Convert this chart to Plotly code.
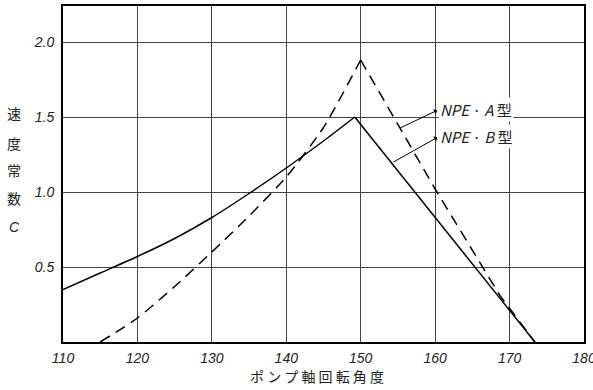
import plotly.graph_objects as go

# Pump shaft rotation angle (deg) vs. speed constant C
angle_b = [110, 115, 120, 125, 130, 135, 140, 145, 149.2, 160, 173.4]
c_b = [0.35, 0.46, 0.57, 0.69, 0.83, 0.99, 1.16, 1.34, 1.50, 0.83, 0.0]
peak_b = 8  # index of the peak of type B

angle_a = [115, 120, 125, 130, 135, 140, 145, 150, 160, 168.7, 173.4]
c_a = [0.0, 0.16, 0.37, 0.60, 0.84, 1.10, 1.43, 1.88, 1.02, 0.31, 0.0]
peak_a = 7  # index of the peak of type A

x_ticks = [110, 120, 130, 140, 150, 160, 170, 180]
y_ticks = [0.5, 1.0, 1.5, 2.0]
y_tick_text = ["0.5", "1.0", "1.5", "2.0"]

jp_font = "Noto Sans CJK JP"
num_font = "Liberation Sans"

fig = go.Figure()


def add_curve(xs, ys, peak, dash):
    """Rising branch is a smooth curve, falling branch is straight."""
    line = dict(color="black", width=1.5, dash=dash)
    fig.add_trace(go.Scatter(x=xs[:peak + 1], y=ys[:peak + 1], mode="lines",
                             line=dict(line, shape="spline", smoothing=0.6),
                             hoverinfo="x+y"))
    fig.add_trace(go.Scatter(x=xs[peak:], y=ys[peak:], mode="lines",
                             line=line, hoverinfo="x+y"))


add_curve(angle_a, c_a, peak_a, "11px,7px")
add_curve(angle_b, c_b, peak_b, "solid")

axis_common = dict(showgrid=True, gridcolor="#444", gridwidth=1,
                   showline=True, linecolor="black", linewidth=2, mirror=True,
                   zeroline=False, ticks="", ticklabeloverflow="allow",
                   automargin=False,
                   tickfont=dict(family=num_font, size=14, color="#222", style="italic"))

fig.update_xaxes(range=[110, 180], tickvals=x_ticks, ticklabelstandoff=2, **axis_common)
fig.update_yaxes(range=[0, 2.24], tickvals=y_ticks, ticktext=y_tick_text,
                 ticklabelstandoff=4, **axis_common)

annotations = []
# vertical y-axis title, one glyph per row
for ch, ypix, italic in [("速", 113, False), ("度", 143, False), ("常", 170, False),
                          ("数", 198, False), ("C", 227, True)]:
    annotations.append(dict(
        text=ch, xref="paper", yref="paper",
        x=(14 - 63) / 521, y=(342 - ypix) / 336,
        showarrow=False, xanchor="center", yanchor="middle",
        font=dict(family=jp_font if not italic else num_font, size=14, color="#222",
                  style="italic" if italic else "normal")))

# x-axis title
annotations.append(dict(
    text="ポ ン プ 軸 回 転 角 度", xref="paper", yref="paper",
    x=(317 - 63) / 521, y=-(376 - 342) / 336,
    showarrow=False, xanchor="center", yanchor="middle",
    font=dict(family=jp_font, size=14, color="#222")))

# curve labels with arrows
for label, tail, tip in [("<i>NPE</i> · <i>A</i> 型", (155.3, 1.427), (160.4, 1.547)),
                         ("<i>NPE</i> · <i>B</i> 型", (154.4, 1.20), (160.4, 1.367))]:
    annotations.append(dict(
        text=label, x=tail[0], y=tail[1], xref="x", yref="y",
        ax=tip[0], ay=tip[1], axref="x", ayref="y",
        showarrow=True, arrowhead=2, arrowsize=1, arrowwidth=1,
        arrowside="start", arrowcolor="black",
        xanchor="left", yanchor="middle", standoff=0, startstandoff=1,
        font=dict(family=jp_font, size=15, color="#222"),
        bgcolor="white"))

fig.update_layout(
    width=593, height=390,
    margin=dict(l=63, r=9, t=6, b=48),
    paper_bgcolor="white", plot_bgcolor="white",
    showlegend=False,
    annotations=annotations,
)

fig.write_html("out.html")
